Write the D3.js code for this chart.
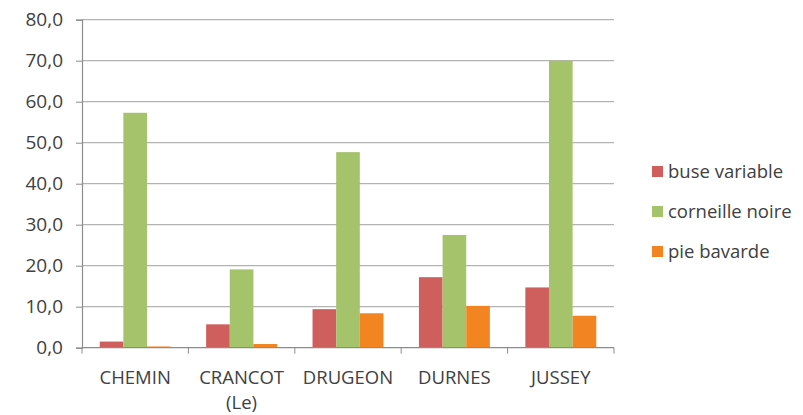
<!DOCTYPE html>
<html>
<head>
<meta charset="utf-8">
<script src="https://cdn.jsdelivr.net/npm/d3@7"></script>
<style>
  body { margin: 0; background: #fff; }
  svg text { font-family: "Open Sans", "Liberation Sans", sans-serif; fill: #404040; }
</style>
</head>
<body>
<svg id="chart" width="803" height="415"></svg>
<script>
// Site names (second line shown under the first where present)
const categories = ["CHEMIN", "CRANCOT\n(Le)", "DRUGEON", "DURNES", "JUSSEY"];
const seriesNames = ["buse variable", "corneille noire", "pie bavarde"];
const buseVariable   = [1.5, 5.7, 9.4, 17.2, 14.7];
const corneilleNoire = [57.3, 19.1, 47.7, 27.5, 70.0];
const pieBavarde     = [0.3, 0.9, 8.4, 10.2, 7.8];
const yTicks = [0, 10, 20, 30, 40, 50, 60, 70, 80];
const colors = ["#CF5F5C", "#A5C36B", "#F28522"];

const series = [buseVariable, corneilleNoire, pieBavarde];

const svg = d3.select("#chart");
const plot = { left: 82, right: 614, top: 19.7, bottom: 347.7 };

const y = d3.scaleLinear().domain([0, 80]).range([plot.bottom, plot.top]);
const x = d3.scaleBand().domain(d3.range(categories.length)).range([plot.left, plot.right]);
// three bars plus a 1.5-bar gap per category
const barW = x.bandwidth() / 4.5;
const inner = d3.scaleBand().domain(d3.range(series.length))
  .range([0.75 * barW, 3.75 * barW]);

// horizontal gridlines
svg.append("g").selectAll("line").data(yTicks.filter(d => d > 0)).join("line")
  .attr("x1", plot.left).attr("x2", plot.right)
  .attr("y1", d => y(d)).attr("y2", d => y(d))
  .attr("stroke", "#b3b3b3").attr("stroke-width", 1.2);

// bars
series.forEach((vals, s) => {
  svg.append("g").selectAll("rect").data(vals).join("rect")
    .attr("x", (d, i) => x(i) + inner(s))
    .attr("width", inner.bandwidth())
    .attr("y", d => y(d))
    .attr("height", d => y(0) - y(d))
    .attr("fill", colors[s]);
});

// y axis
const yAxis = d3.axisLeft(y).tickValues(yTicks).tickSize(6).tickPadding(13)
  .tickFormat(d => d3.format(".1f")(d).replace(".", ","));
const gy = svg.append("g").attr("transform", `translate(${plot.left},0)`).call(yAxis);
gy.select(".domain").attr("stroke", "#8c8c8c").attr("stroke-width", 1.2);
gy.selectAll(".tick line").attr("stroke", "#8c8c8c");
gy.selectAll(".tick text").attr("font-size", 19).style("fill", "#404040")
  .attr("font-family", "'Open Sans', sans-serif");

// x axis
const xLin = d3.scaleLinear().domain([0, categories.length]).range([plot.left, plot.right]);
const gx = svg.append("g").attr("transform", `translate(0,${plot.bottom})`);
gx.append("line").attr("x1", plot.left).attr("x2", plot.right)
  .attr("stroke", "#8c8c8c").attr("stroke-width", 1.2);
gx.selectAll("line.t").data(d3.range(categories.length + 1)).join("line")
  .attr("class", "t")
  .attr("x1", d => xLin(d)).attr("x2", d => xLin(d))
  .attr("y1", 0).attr("y2", 6)
  .attr("stroke", "#8c8c8c");
// one text element per label line
const labelLines = categories.flatMap((d, i) =>
  d.split("\n").map((line, k) => ({ i, k, line })));
gx.selectAll("text").data(labelLines).join("text")
  .attr("text-anchor", "middle")
  .attr("font-size", 18.5)
  .attr("x", d => x(d.i) + x.bandwidth() / 2)
  .attr("y", d => 36.5 + d.k * 25)
  .text(d => d.line);

// legend
const legend = svg.append("g").attr("transform", "translate(652,172)");
seriesNames.forEach((name, i) => {
  const g = legend.append("g").attr("transform", `translate(0,${i * 40})`);
  g.append("rect").attr("x", 0).attr("y", -6).attr("width", 11).attr("height", 11).attr("fill", colors[i]);
  g.append("text").attr("x", 16).attr("y", 0).attr("dy", "0.35em")
    .attr("font-size", 18.5).text(name);
});
</script>
</body>
</html>
